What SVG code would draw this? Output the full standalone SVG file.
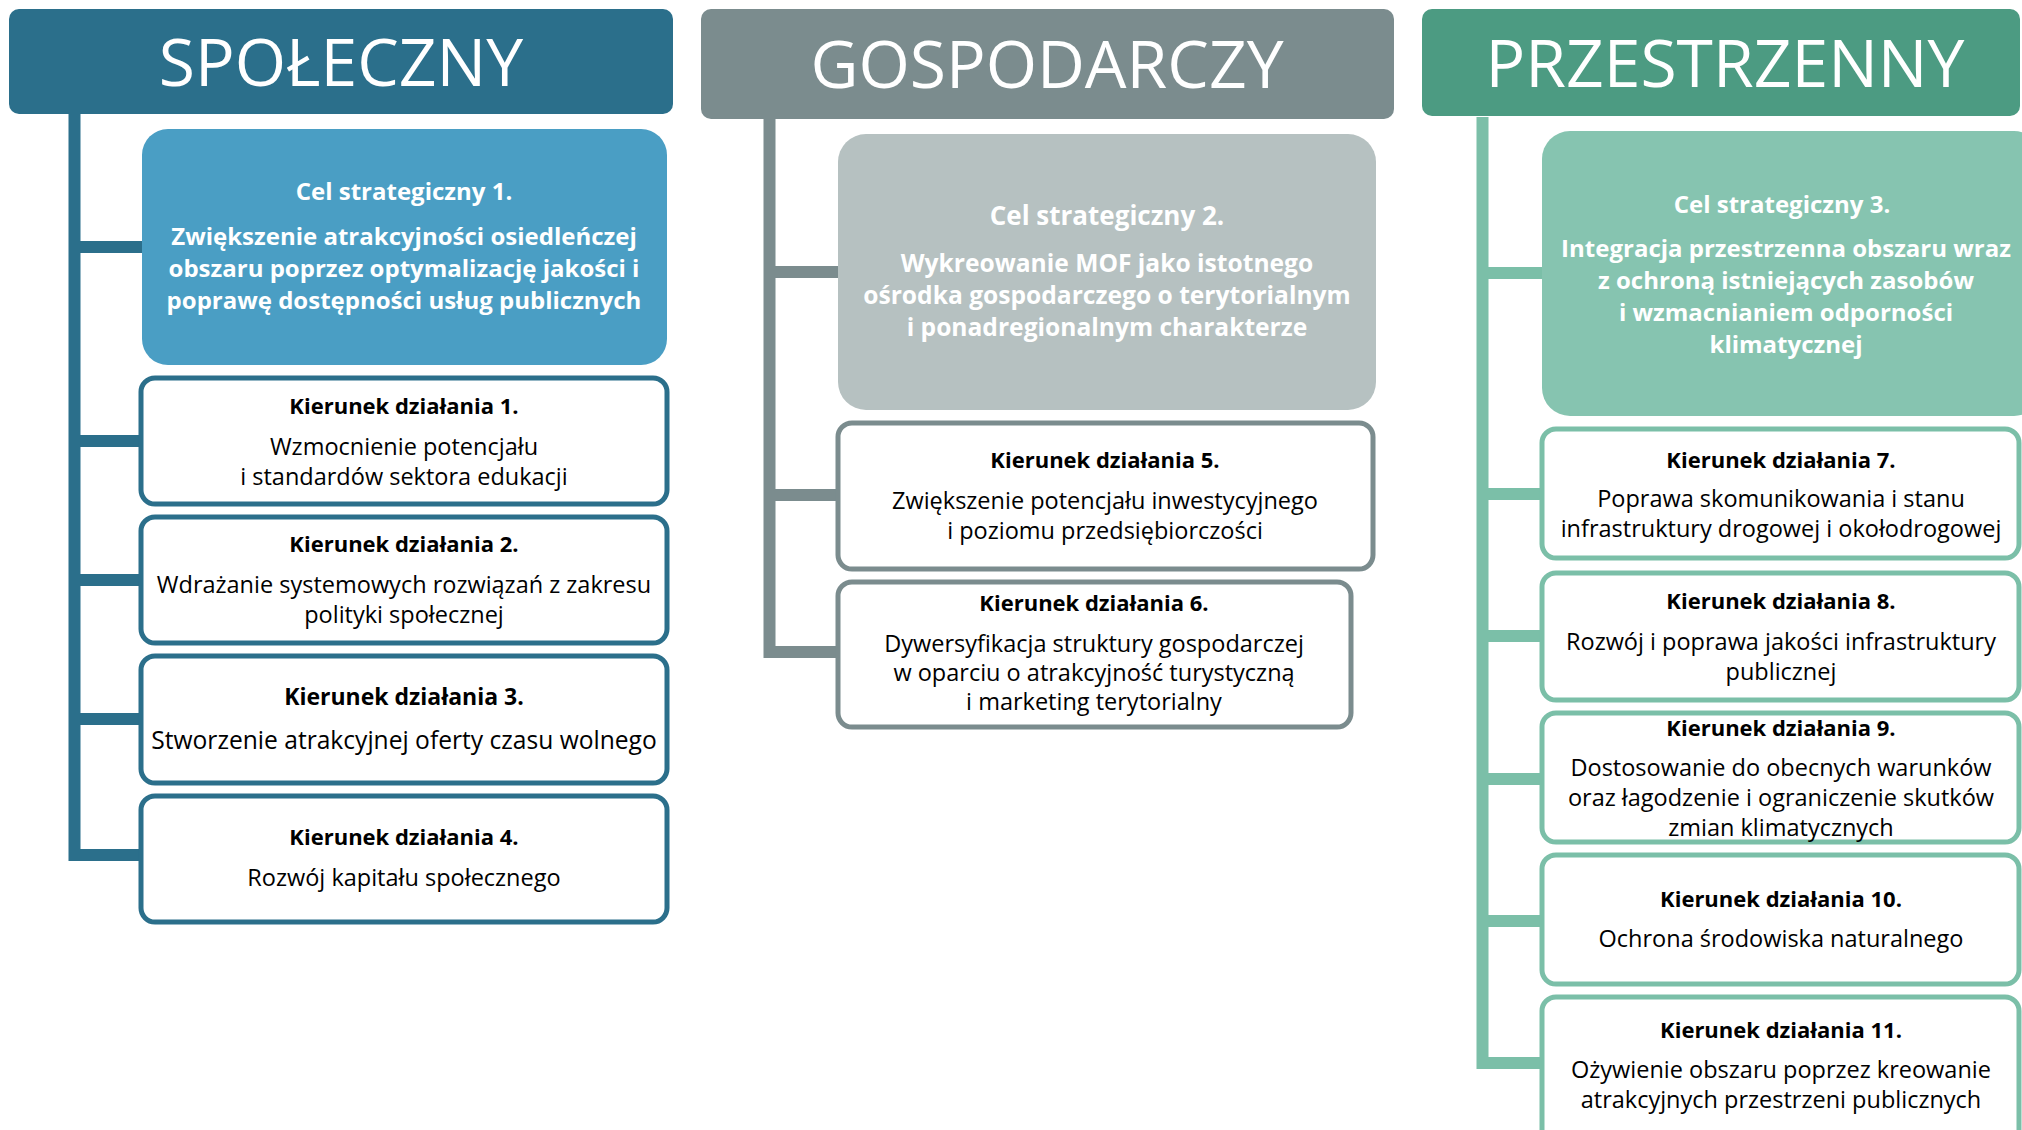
<svg xmlns="http://www.w3.org/2000/svg" width="2022" height="1130" viewBox="0 0 2022 1130">
<style>
text{font-family:"Open Sans","Noto Sans","Liberation Sans",sans-serif;text-anchor:middle}
.hd{font-size:66px;fill:#fff}
.ct{font-size:24px;font-weight:bold;fill:#fff}
.cb{font-size:24px;font-weight:bold;fill:#fff}
.ct2{font-size:26px;font-weight:bold;fill:#fff}
.cb2{font-size:24.6px;font-weight:bold;fill:#fff}
.kt{font-size:22px;font-weight:bold;fill:#000}
.kb{font-size:23.5px;fill:#000}
.kt3{font-size:23px;font-weight:bold;fill:#000}
.kb3{font-size:24.6px;fill:#000}
.k1{fill:#fff;stroke:#2b6f8b;stroke-width:5}
.k2{fill:#fff;stroke:#7b8c8e;stroke-width:5}
.k3{fill:#fff;stroke:#7bbfa8;stroke-width:5}
.c1{stroke:#2b6f8b;stroke-width:12;fill:none}
.c2{stroke:#7b8c8e;stroke-width:12;fill:none}
.c3{stroke:#7bbfa8;stroke-width:12;fill:none}
</style>
<rect width="2022" height="1130" fill="#fff"/>
<g id="connectors">
<path class="c1" d="M74.5 114V861M74.5 247H142M74.5 441H142M74.5 580H142M74.5 719H142M74.5 855H142"/>
<path class="c2" d="M769.5 119V658M769.5 272H838M769.5 495H838M769.5 652H838"/>
<path class="c3" d="M1482.5 117V1069M1482.5 273H1542M1482.5 494H1542M1482.5 636H1542M1482.5 779H1542M1482.5 921H1542M1482.5 1063H1542"/>
</g>
<g id="h1"><rect x="9" y="9" width="664" height="105" rx="10" fill="#2b6f8b"/><text class="hd" x="341" y="86">SPOŁECZNY</text></g>
<g id="h2"><rect x="701" y="9" width="693" height="110" rx="10" fill="#7b8c8e"/><text class="hd" x="1047" y="88">GOSPODARCZY</text></g>
<g id="h3"><rect x="1422" y="9" width="598" height="107" rx="10" fill="#4c9b82"/><text class="hd" x="1725" y="87">PRZESTRZENNY</text></g>
<g id="cel1"><rect x="142" y="129" width="525" height="236" rx="26" fill="#4a9ec4"/>
<text class="ct" x="404" y="200">Cel strategiczny 1.</text>
<text class="cb" x="404" y="245">Zwiększenie atrakcyjności osiedleńczej</text>
<text class="cb" x="404" y="277">obszaru poprzez optymalizację jakości i</text>
<text class="cb" x="404" y="309">poprawę dostępności usług publicznych</text></g>
<g id="kd1"><rect class="k1" x="141" y="378" width="526" height="126" rx="14"/>
<text class="kt" x="404" y="414">Kierunek działania 1.</text>
<text class="kb" x="404" y="455">Wzmocnienie potencjału</text>
<text class="kb" x="404" y="485">i standardów sektora edukacji</text></g>
<g id="kd2"><rect class="k1" x="141" y="517" width="526" height="126" rx="14"/>
<text class="kt" x="404" y="552">Kierunek działania 2.</text>
<text class="kb" x="404" y="593">Wdrażanie systemowych rozwiązań z zakresu</text>
<text class="kb" x="404" y="623">polityki społecznej</text></g>
<g id="kd3"><rect class="k1" x="141" y="656" width="526" height="127" rx="14"/>
<text class="kt3" x="404" y="705">Kierunek działania 3.</text>
<text class="kb3" x="404" y="749">Stworzenie atrakcyjnej oferty czasu wolnego</text></g>
<g id="kd4"><rect class="k1" x="141" y="796" width="526" height="126" rx="14"/>
<text class="kt" x="404" y="845">Kierunek działania 4.</text>
<text class="kb" x="404" y="886">Rozwój kapitału społecznego</text></g>
<g id="cel2"><rect x="838" y="134" width="538" height="276" rx="28" fill="#b6c1c1"/>
<text class="ct2" x="1107" y="225">Cel strategiczny 2.</text>
<text class="cb2" x="1107" y="272">Wykreowanie MOF jako istotnego</text>
<text class="cb2" x="1107" y="304">ośrodka gospodarczego o terytorialnym</text>
<text class="cb2" x="1107" y="336">i ponadregionalnym charakterze</text></g>
<g id="kd5"><rect class="k2" x="838" y="423" width="535" height="146" rx="14"/>
<text class="kt" x="1105" y="468">Kierunek działania 5.</text>
<text class="kb" x="1105" y="509">Zwiększenie potencjału inwestycyjnego</text>
<text class="kb" x="1105" y="539">i poziomu przedsiębiorczości</text></g>
<g id="kd6"><rect class="k2" x="838" y="582" width="513" height="145" rx="14"/>
<text class="kt" x="1094" y="611">Kierunek działania 6.</text>
<text class="kb" x="1094" y="652">Dywersyfikacja struktury gospodarczej</text>
<text class="kb" x="1094" y="681">w oparciu o atrakcyjność turystyczną</text>
<text class="kb" x="1094" y="710">i marketing terytorialny</text></g>
<g id="cel3"><rect x="1542" y="131" width="500" height="285" rx="28" fill="#86c4b0"/>
<text class="ct" x="1782" y="213">Cel strategiczny 3.</text>
<text class="cb" x="1786" y="257">Integracja przestrzenna obszaru wraz</text>
<text class="cb" x="1786" y="289">z ochroną istniejących zasobów</text>
<text class="cb" x="1786" y="321">i wzmacnianiem odporności</text>
<text class="cb" x="1786" y="353">klimatycznej</text></g>
<g id="kd7"><rect class="k3" x="1542" y="429" width="477" height="129" rx="14"/>
<text class="kt" x="1781" y="468">Kierunek działania 7.</text>
<text class="kb" x="1781" y="507">Poprawa skomunikowania i stanu</text>
<text class="kb" x="1781" y="537">infrastruktury drogowej i okołodrogowej</text></g>
<g id="kd8"><rect class="k3" x="1542" y="573" width="477" height="127" rx="14"/>
<text class="kt" x="1781" y="609">Kierunek działania 8.</text>
<text class="kb" x="1781" y="650">Rozwój i poprawa jakości infrastruktury</text>
<text class="kb" x="1781" y="680">publicznej</text></g>
<g id="kd9"><rect class="k3" x="1542" y="713" width="477" height="129" rx="14"/>
<text class="kt" x="1781" y="736">Kierunek działania 9.</text>
<text class="kb" x="1781" y="776">Dostosowanie do obecnych warunków</text>
<text class="kb" x="1781" y="806">oraz łagodzenie i ograniczenie skutków</text>
<text class="kb" x="1781" y="836">zmian klimatycznych</text></g>
<g id="kd10"><rect class="k3" x="1542" y="855" width="477" height="129" rx="14"/>
<text class="kt" x="1781" y="907">Kierunek działania 10.</text>
<text class="kb" x="1781" y="947">Ochrona środowiska naturalnego</text></g>
<g id="kd11"><rect class="k3" x="1542" y="997" width="477" height="150" rx="14"/>
<text class="kt" x="1781" y="1038">Kierunek działania 11.</text>
<text class="kb" x="1781" y="1078">Ożywienie obszaru poprzez kreowanie</text>
<text class="kb" x="1781" y="1108">atrakcyjnych przestrzeni publicznych</text></g>
</svg>
